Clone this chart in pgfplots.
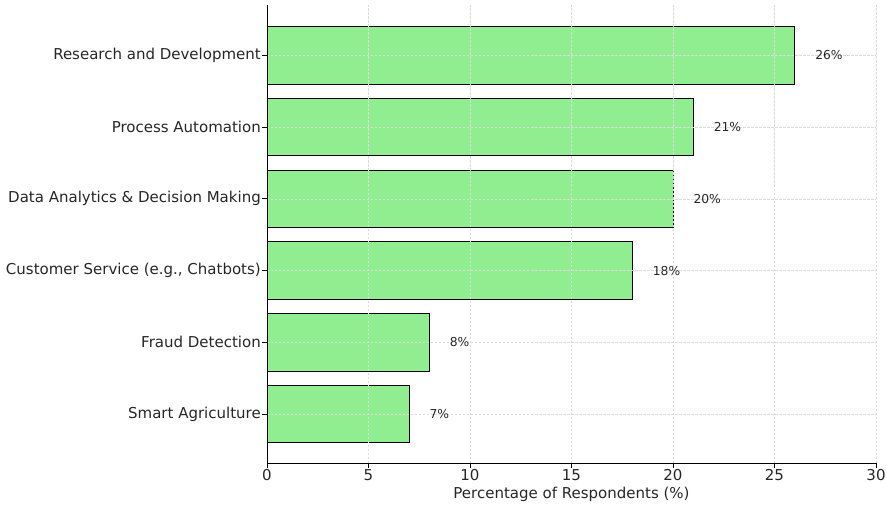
\documentclass[border=0pt]{standalone}
\usepackage{pgfplots}
\pgfplotsset{compat=1.18}
\usepackage{fontspec}
\setmainfont{DejaVu Sans}
\definecolor{barg}{HTML}{90EE90}
\definecolor{txt}{HTML}{262626}
\begin{document}
\begin{tikzpicture}
\begin{axis}[
  at={(0,0)}, anchor=south west,
  scale only axis, width=609pt, height=458pt,
  xmin=0, xmax=30, ymin=-0.68, ymax=5.70,
  axis x line*=bottom, axis y line*=left,
  axis line style={black, line width=0.9pt},
  xtick={0,5,...,30},
  ytick={0,1,2,3,4,5},
  yticklabels={Smart Agriculture, Fraud Detection, {Customer Service (e.g., Chatbots)}, Data Analytics \& Decision Making, Process Automation, Research and Development},
  tick align=outside, tick style={black, line width=0.8pt}, major tick length=4.5pt,
  grid=major, grid style={dash pattern=on 2.5pt off 1.5pt, gray!28, line width=0.5pt},
  ticklabel style={font=\fontsize{15}{18}\selectfont, text=txt},
  yticklabel style={inner sep=1.5pt},
  xticklabel style={inner sep=2pt},
  /pgf/number format/assume math mode=true,
  xlabel={Percentage of Respondents (\%)},
  xlabel style={font=\fontsize{15}{18}\selectfont, text=txt, yshift=-1pt},
  axis on top,
  clip=false,
]
\addplot[xbar, bar width=0.8, fill=barg, draw=black, line width=0.9pt] coordinates {
  (7,0) (8,1) (18,2) (20,3) (21,4) (26,5)};
\addplot[only marks, mark=none, nodes near coords, point meta=explicit symbolic,
  nodes near coords style={anchor=west, inner sep=0pt, font=\fontsize{12.3}{14}\selectfont, text=txt}] coordinates {
  (8,0) [7\%] (9,1) [8\%] (19,2) [18\%] (21,3) [20\%] (22,4) [21\%] (27,5) [26\%]};
\end{axis}
\pgfresetboundingbox
\useasboundingbox (-267pt,-41pt) rectangle (619pt,463pt);
\end{tikzpicture}
\end{document}
